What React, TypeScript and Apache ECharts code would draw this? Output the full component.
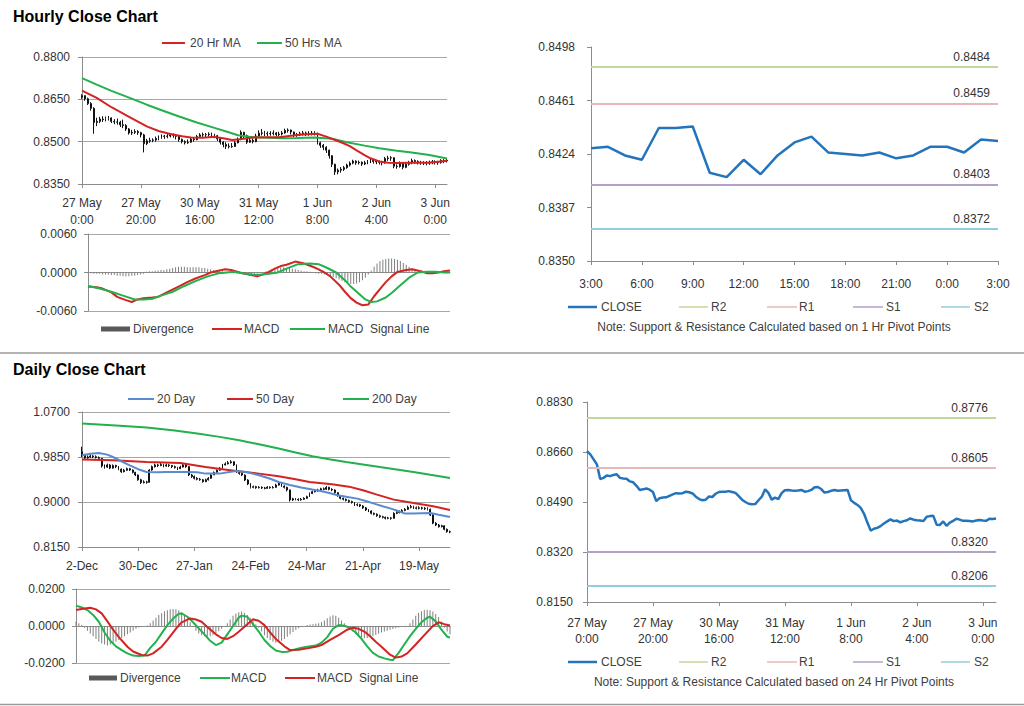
import React, { useEffect, useRef } from "react";
import * as echarts from "echarts";

// ---------------- DATA ----------------
const HOURLY_TICKS = ["27 May\n0:00", "27 May\n20:00", "30 May\n16:00", "31 May\n12:00", "1 Jun\n8:00", "2 Jun\n4:00", "3 Jun\n0:00"];
const DAILY_TICKS = ["2-Dec", "30-Dec", "27-Jan", "24-Feb", "24-Mar", "21-Apr", "19-May"];
const HOUR_LABELS = ["3:00", "4:00", "5:00", "6:00", "7:00", "8:00", "9:00", "10:00", "11:00", "12:00", "13:00", "14:00", "15:00", "16:00", "17:00", "18:00", "19:00", "20:00", "21:00", "22:00", "23:00", "0:00", "1:00", "2:00", "3:00"];

const HOURLY_FIRST_OPEN = 0.8658;
const HOURLY_CLOSE = [
  0.8663, 0.8652, 0.8635, 0.8618, 0.8568, 0.8572, 0.858, 0.8578, 0.8582, 0.8584,
  0.8572, 0.857, 0.8569, 0.856, 0.8557, 0.8545, 0.8531, 0.8533, 0.8536, 0.8532,
  0.8524, 0.8493, 0.8503, 0.8505, 0.8506, 0.8511, 0.8516, 0.852, 0.8519, 0.852,
  0.8525, 0.8523, 0.8519, 0.8508, 0.85, 0.8496, 0.8498, 0.8509, 0.8507, 0.8518,
  0.8524, 0.8525, 0.8525, 0.8527, 0.8524, 0.8521, 0.851, 0.8498, 0.849, 0.8484,
  0.8482, 0.8483, 0.8496, 0.8508, 0.8533, 0.8521, 0.8498, 0.8505, 0.85, 0.852,
  0.853, 0.8531, 0.8529, 0.8528, 0.8529, 0.8531, 0.8525, 0.8527, 0.8531, 0.854,
  0.8541, 0.8534, 0.8522, 0.8524, 0.8528, 0.8531, 0.8528, 0.8529, 0.853, 0.8531,
  0.8496, 0.8487, 0.848, 0.847, 0.845, 0.842, 0.8393, 0.8399, 0.8402, 0.8408,
  0.8417, 0.8424, 0.8431, 0.8425, 0.8427, 0.8421, 0.8425, 0.8428, 0.8434, 0.843,
  0.8428, 0.8427, 0.8425, 0.844, 0.8442, 0.8443, 0.8413, 0.8412, 0.8424, 0.8409,
  0.842, 0.8426, 0.8433, 0.843, 0.8426, 0.8426, 0.8425, 0.8424, 0.8427, 0.8429,
  0.8427, 0.8426, 0.8433, 0.8432, 0.8434,
];
const HOURLY_HIGH = [
  0.8668, 0.8664, 0.8656, 0.864, 0.8622, 0.8585, 0.8588, 0.859, 0.8589, 0.8591,
  0.8586, 0.858, 0.8582, 0.8574, 0.8578, 0.8562, 0.8548, 0.8542, 0.8544, 0.8541,
  0.8535, 0.8528, 0.851, 0.8514, 0.8512, 0.8518, 0.8522, 0.8526, 0.8524, 0.8527,
  0.853, 0.8529, 0.8526, 0.8521, 0.8511, 0.8505, 0.8508, 0.8515, 0.8516, 0.8524,
  0.853, 0.8532, 0.8531, 0.8533, 0.8532, 0.8528, 0.8524, 0.8512, 0.8502, 0.8498,
  0.8494, 0.8495, 0.8503, 0.8515, 0.854, 0.8535, 0.8525, 0.8514, 0.8512, 0.8528,
  0.854, 0.8545, 0.8538, 0.8536, 0.8537, 0.854, 0.8534, 0.8535, 0.8538, 0.8546,
  0.8547, 0.8543, 0.8536, 0.8531, 0.8535, 0.8538, 0.8536, 0.8537, 0.8538, 0.8537,
  0.8532, 0.85, 0.8492, 0.8484, 0.8472, 0.8452, 0.8422, 0.8405, 0.841, 0.8414,
  0.8422, 0.843, 0.8436, 0.8434, 0.8433, 0.843, 0.8432, 0.8435, 0.844, 0.8438,
  0.8435, 0.8433, 0.8432, 0.8446, 0.845, 0.8449, 0.8445, 0.842, 0.843, 0.8426,
  0.8426, 0.8432, 0.844, 0.8437, 0.8434, 0.8432, 0.8431, 0.8431, 0.8433, 0.8435,
  0.8434, 0.8432, 0.8438, 0.8438, 0.844,
];
const HOURLY_LOW = [
  0.8652, 0.8645, 0.863, 0.861, 0.8528, 0.8555, 0.8566, 0.857, 0.8572, 0.8575,
  0.8566, 0.8562, 0.856, 0.8552, 0.8548, 0.8538, 0.8525, 0.8524, 0.8527, 0.8524,
  0.8515, 0.8462, 0.8488, 0.8496, 0.8498, 0.85, 0.8505, 0.851, 0.851, 0.8512,
  0.8515, 0.8514, 0.8508, 0.85, 0.8494, 0.849, 0.8492, 0.8497, 0.85, 0.8505,
  0.8515, 0.8517, 0.8516, 0.8518, 0.8516, 0.8512, 0.8502, 0.849, 0.848, 0.8474,
  0.8476, 0.8478, 0.8482, 0.8494, 0.8505, 0.8512, 0.8492, 0.8496, 0.8494, 0.8498,
  0.8518, 0.8522, 0.852, 0.8519, 0.8521, 0.8522, 0.8518, 0.8519, 0.8522, 0.8528,
  0.8532, 0.8526, 0.8516, 0.8517, 0.852, 0.8522, 0.852, 0.8521, 0.8522, 0.8522,
  0.849, 0.8478, 0.847, 0.846, 0.844, 0.841, 0.8382, 0.8384, 0.839, 0.8396,
  0.8404, 0.8412, 0.842, 0.8418, 0.8419, 0.8414, 0.8417, 0.842, 0.8424, 0.8422,
  0.842, 0.8419, 0.8416, 0.8422, 0.8432, 0.8432, 0.8406, 0.8404, 0.8408, 0.8402,
  0.8406, 0.8415, 0.842, 0.8422, 0.8419, 0.8418, 0.8417, 0.8416, 0.8418, 0.842,
  0.8419, 0.8418, 0.8422, 0.8424, 0.8426,
];
// [hour index, value]
const HOURLY_MA20 = [[0, 0.8681], [5, 0.8655], [10, 0.8622], [16, 0.8588], [22, 0.8554], [26, 0.8538], [30, 0.8527], [34, 0.8519], [37, 0.8515], [41, 0.8514], [45, 0.8517], [48, 0.8512], [51, 0.8506], [55, 0.851], [58, 0.8515], [63, 0.8516], [67, 0.8516], [71, 0.8521], [75, 0.8525], [80, 0.8528], [83, 0.8518], [86, 0.8506], [88, 0.8498], [91, 0.8484], [93, 0.8471], [96, 0.8452], [98, 0.8441], [101, 0.843], [104, 0.8425], [107, 0.8424], [112, 0.8425], [118, 0.8425], [124, 0.8432]];
const HOURLY_MA50 = [[0, 0.8725], [5, 0.8702], [10, 0.868], [16, 0.8656], [22, 0.8631], [28, 0.8608], [33, 0.8589], [39, 0.8568], [45, 0.8549], [49, 0.8536], [53, 0.8523], [58, 0.8516], [63, 0.8514], [68, 0.8512], [73, 0.8513], [79, 0.8515], [85, 0.851], [90, 0.8498], [96, 0.8486], [101, 0.8477], [107, 0.8468], [112, 0.8462], [118, 0.8453], [124, 0.844]];
const HOURLY_MACD = [[0, -0.0022], [3, -0.0023], [5, -0.0025], [8, -0.0031], [10, -0.0038], [13, -0.0043], [15, -0.0046], [17, -0.0042], [19, -0.004], [22, -0.0039], [24, -0.0038], [27, -0.0031], [31, -0.0022], [34, -0.0015], [37, -0.0009], [40, -0.0004], [42, 0.0], [45, 0.0003], [47, 0.0005], [49, 0.0004], [52, 0.0], [55, -0.0003], [58, -0.0006], [60, -0.0003], [62, 0.0001], [64, 0.0006], [66, 0.001], [68, 0.0012], [71, 0.0017], [74, 0.0014], [77, 0.0009], [79, 0.0005], [81, 0.0], [83, -0.0006], [86, -0.0019], [88, -0.003], [90, -0.004], [92, -0.0047], [94, -0.0051], [96, -0.005], [98, -0.0037], [100, -0.0026], [102, -0.0015], [104, -0.0006], [106, 0.0001], [109, 0.0004], [111, 0.0005], [114, 0.0002], [116, -0.0001], [118, -0.0001], [120, 0.0], [122, 0.0002], [124, 0.0003]];
const HOURLY_SIGNAL = [[0, -0.0021], [4, -0.0025], [8, -0.003], [12, -0.0036], [16, -0.0042], [19, -0.0042], [22, -0.0041], [25, -0.0036], [29, -0.003], [33, -0.0021], [37, -0.0013], [41, -0.0006], [45, -0.0001], [50, 0.0001], [54, -0.0002], [58, -0.0004], [62, -0.0002], [65, 0.0], [68, 0.0006], [72, 0.0013], [76, 0.0014], [79, 0.0013], [82, 0.0007], [85, 0.0], [88, -0.0012], [90, -0.0022], [93, -0.0034], [95, -0.0042], [97, -0.0046], [99, -0.0045], [102, -0.0039], [104, -0.0032], [107, -0.002], [110, -0.0008], [113, 0.0], [116, 0.0001], [119, 0.0001], [122, 0.0], [124, 0.0]];
const HOURLY_DIVERGENCE = [
  -0.0001, -0.0001, -0.0002, -0.0002, -0.0002, -0.0003, -0.0003, -0.0003,
  -0.0004, -0.0004, -0.0005, -0.0005, -0.0006, -0.0006, -0.0006, -0.0005, -0.0005, -0.0004, -0.0003, -0.0002,
  0.0001, 0.0002, 0.0002, 0.0003, 0.0003, 0.0004, 0.0004, 0.0005,
  0.0006, 0.0007, 0.0008, 0.0009, 0.0009, 0.0009, 0.0008, 0.0008, 0.0008, 0.0008, 0.0008, 0.0007, 0.0007, 0.0006,
  0.0005, 0.0004, 0.0003, 0.0003, 0.0002, 0.0001, 0.0001, 0.0,
  -0.0001, -0.0002, -0.0002, -0.0003, -0.0003, -0.0003, -0.0004, -0.0003, -0.0002, -0.0001, 0.0,
  0.0002, 0.0003, 0.0005, 0.0006, 0.0007, 0.0008, 0.0008, 0.0007, 0.0007, 0.0006, 0.0005, 0.0004, 0.0003, 0.0002, 0.0002,
  0.0001, 0.0, -0.0001, -0.0002, -0.0002, -0.0003, -0.0004, -0.0005, -0.0007,
  -0.0009, -0.0011, -0.0013, -0.0015, -0.0017, -0.0018, -0.0018, -0.0017, -0.0015, -0.0012, -0.0008, -0.0003,
  0.0003, 0.0009, 0.0014, 0.0018, 0.002, 0.0021, 0.0022, 0.0022, 0.0021, 0.002, 0.0018, 0.0015, 0.0012, 0.0009, 0.0006, 0.0004,
  0.0002, 0.0001, 0.0, -0.0001, -0.0001, 0.0, 0.0, 0.0001, 0.0, 0.0, -0.0001, 0.0,
];

const PIVOT_HOUR_CLOSE = [0.8428, 0.8429, 0.8423, 0.842, 0.8442, 0.8442, 0.8443, 0.8411, 0.8408, 0.842, 0.841, 0.8423, 0.8432, 0.8436, 0.8425, 0.8424, 0.8423, 0.8425, 0.8421, 0.8423, 0.8429, 0.8429, 0.8425, 0.8434, 0.8433];
const LEVEL_NAMES = ["R2", "R1", "S1", "S2"];
const HOURLY_PIVOTS = [0.8484, 0.8459, 0.8403, 0.8372];
const DAILY_PIVOTS = [0.8776, 0.8605, 0.832, 0.8206];

const DAILY_FIRST_OPEN = 0.995;
const DAILY_CLOSE = [
  0.99, 0.983, 0.985, 0.987, 0.9856, 0.984, 0.9825, 0.968, 0.966, 0.97,
  0.964, 0.969, 0.9667, 0.962, 0.9572, 0.96, 0.963, 0.9604, 0.956, 0.951,
  0.942, 0.9366, 0.938, 0.9372, 0.9604, 0.9667, 0.97, 0.969, 0.971, 0.9679,
  0.97, 0.969, 0.9667, 0.965, 0.963, 0.966, 0.97, 0.9667, 0.951, 0.948,
  0.9448, 0.943, 0.942, 0.9384, 0.942, 0.9448, 0.951, 0.956, 0.96, 0.964,
  0.9699, 0.972, 0.9742, 0.976, 0.9699, 0.9572, 0.954, 0.951, 0.9415, 0.934,
  0.9277, 0.929, 0.927, 0.9277, 0.9265, 0.9258, 0.928, 0.927, 0.9277, 0.932,
  0.9356, 0.93, 0.9277, 0.9227, 0.9038, 0.906, 0.9051, 0.904, 0.9051, 0.907,
  0.9101, 0.916, 0.9195, 0.921, 0.9227, 0.925, 0.9239, 0.9277, 0.924, 0.9227,
  0.9176, 0.912, 0.907, 0.9051, 0.903, 0.9007, 0.899, 0.8943, 0.895, 0.8925,
  0.889, 0.8849, 0.883, 0.8786, 0.877, 0.874, 0.8722, 0.871, 0.8692, 0.87,
  0.8692, 0.8786, 0.88, 0.8817, 0.884, 0.8862, 0.89, 0.8912, 0.889, 0.888,
  0.889, 0.888, 0.887, 0.8862, 0.8754, 0.86, 0.8565, 0.8534, 0.855, 0.8484,
  0.844, 0.8433,
];
const DAILY_HIGH = [
  1.0045, 0.9905, 0.988, 0.9895, 0.9885, 0.988, 0.986, 0.983, 0.971, 0.9725,
  0.9715, 0.971, 0.9705, 0.968, 0.9635, 0.9625, 0.965, 0.9645, 0.9615, 0.957,
  0.952, 0.944, 0.941, 0.94, 0.962, 0.969, 0.9725, 0.972, 0.9735, 0.972,
  0.9725, 0.9715, 0.97, 0.969, 0.9665, 0.9685, 0.972, 0.9715, 0.968, 0.953,
  0.95, 0.947, 0.9455, 0.9435, 0.944, 0.947, 0.953, 0.9575, 0.9615, 0.966,
  0.972, 0.975, 0.9775, 0.979, 0.977, 0.971, 0.959, 0.956, 0.952, 0.943,
  0.9355, 0.931, 0.9305, 0.93, 0.9295, 0.9285, 0.93, 0.9295, 0.93, 0.9345,
  0.938, 0.9365, 0.9315, 0.929, 0.9235, 0.908, 0.9075, 0.907, 0.9075, 0.909,
  0.912, 0.918, 0.9215, 0.9235, 0.925, 0.927, 0.9275, 0.93, 0.929, 0.926,
  0.924, 0.9185, 0.913, 0.9085, 0.9065, 0.9045, 0.9025, 0.9, 0.8975, 0.8965,
  0.894, 0.8905, 0.8865, 0.8845, 0.88, 0.8785, 0.876, 0.874, 0.8725, 0.872,
  0.8715, 0.8805, 0.8825, 0.884, 0.8865, 0.8885, 0.893, 0.8945, 0.893, 0.8915,
  0.892, 0.891, 0.8905, 0.89, 0.8875, 0.877, 0.862, 0.8585, 0.857, 0.856,
  0.85, 0.846,
];
const DAILY_LOW = [
  0.985, 0.98, 0.9815, 0.9835, 0.983, 0.982, 0.98, 0.965, 0.963, 0.9645,
  0.962, 0.963, 0.964, 0.96, 0.955, 0.956, 0.959, 0.9585, 0.954, 0.949,
  0.94, 0.934, 0.935, 0.9345, 0.937, 0.959, 0.965, 0.966, 0.9675, 0.9655,
  0.9665, 0.966, 0.964, 0.963, 0.9605, 0.962, 0.965, 0.9645, 0.949, 0.9455,
  0.9425, 0.941, 0.94, 0.9365, 0.9375, 0.9405, 0.944, 0.953, 0.9565, 0.9595,
  0.963, 0.969, 0.971, 0.9725, 0.968, 0.955, 0.9515, 0.949, 0.9395, 0.932,
  0.9255, 0.926, 0.925, 0.9255, 0.9245, 0.924, 0.925, 0.925, 0.9255, 0.927,
  0.931, 0.9285, 0.9255, 0.92, 0.901, 0.902, 0.903, 0.902, 0.9025, 0.904,
  0.906, 0.9095, 0.915, 0.918, 0.9195, 0.9215, 0.922, 0.923, 0.922, 0.9205,
  0.9155, 0.91, 0.905, 0.903, 0.901, 0.8985, 0.897, 0.8925, 0.892, 0.8905,
  0.887, 0.883, 0.881, 0.8765, 0.875, 0.872, 0.87, 0.869, 0.867, 0.8675,
  0.8665, 0.8685, 0.877, 0.8785, 0.8805, 0.8825, 0.885, 0.888, 0.887, 0.886,
  0.886, 0.8855, 0.885, 0.884, 0.8735, 0.858, 0.8545, 0.8515, 0.852, 0.8465,
  0.842, 0.841,
];
// [day index, value]
const DAILY_MA20 = [[0, 0.9882], [3, 0.991], [6, 0.9926], [9, 0.9895], [11, 0.985], [14, 0.977], [17, 0.9693], [20, 0.962], [23, 0.9567], [27, 0.956], [30, 0.9567], [34, 0.9565], [37, 0.9567], [41, 0.956], [44, 0.9536], [49, 0.9536], [53, 0.957], [55, 0.9586], [59, 0.956], [63, 0.9504], [67, 0.944], [70, 0.9378], [74, 0.932], [78, 0.9272], [82, 0.9235], [85, 0.9208], [88, 0.917], [91, 0.9127], [94, 0.91], [98, 0.9064], [101, 0.902], [104, 0.897], [107, 0.892], [110, 0.8875], [113, 0.882], [115, 0.8781], [118, 0.8781], [121, 0.8787], [124, 0.8793], [127, 0.876], [131, 0.8717]];
const DAILY_MA50 = [[0, 0.9801], [11, 0.9788], [23, 0.9756], [35, 0.9737], [44, 0.9661], [50, 0.962], [55, 0.9586], [63, 0.9536], [70, 0.9485], [76, 0.943], [81, 0.9378], [89, 0.9334], [95, 0.929], [100, 0.9221], [105, 0.914], [111, 0.9045], [118, 0.8981], [125, 0.8919], [131, 0.885]];
const DAILY_MA200 = [[0, 1.0481], [12, 1.0445], [23, 1.0405], [33, 1.035], [41, 1.0292], [49, 1.023], [56, 1.0165], [63, 1.009], [70, 1.0009], [76, 0.9935], [82, 0.9863], [88, 0.9808], [94, 0.9756], [100, 0.971], [106, 0.9661], [112, 0.9614], [118, 0.9567], [124, 0.9515], [131, 0.9455]];
const DAILY_MACD = [[0, 0.011], [2, 0.01], [4, 0.0086], [6, 0.006], [8, 0.0023], [10, -0.0035], [12, -0.008], [14, -0.011], [16, -0.013], [18, -0.0148], [20, -0.016], [22, -0.0162], [24, -0.016], [26, -0.0118], [28, -0.0085], [30, -0.004], [32, 0.0005], [34, 0.004], [36, 0.0066], [37, 0.0068], [39, 0.005], [41, 0.002], [43, -0.0013], [45, -0.0045], [47, -0.008], [49, -0.0103], [51, -0.009], [53, -0.0045], [55, 0.0], [57, 0.0045], [58, 0.0056], [60, 0.005], [62, 0.001], [64, -0.003], [66, -0.0076], [68, -0.0108], [70, -0.0132], [72, -0.014], [74, -0.0139], [76, -0.013], [79, -0.0117], [81, -0.0112], [84, -0.0106], [86, -0.009], [88, -0.006], [90, -0.0015], [92, 0.0005], [94, 0.0002], [96, -0.0012], [98, -0.0035], [100, -0.007], [102, -0.011], [104, -0.0145], [106, -0.0165], [108, -0.0175], [110, -0.0182], [111, -0.0184], [113, -0.0145], [115, -0.01], [117, -0.0055], [119, -0.0015], [121, 0.002], [123, 0.0045], [124, 0.005], [126, 0.0025], [128, -0.002], [130, -0.0058], [131, -0.0062]];
const DAILY_SIGNAL = [[0, 0.0086], [3, 0.0095], [5, 0.0099], [7, 0.009], [9, 0.0068], [11, 0.0025], [13, -0.002], [15, -0.006], [18, -0.0112], [20, -0.0138], [23, -0.0157], [25, -0.016], [27, -0.0148], [30, -0.0112], [32, -0.0075], [35, -0.0015], [37, 0.002], [40, 0.0041], [42, 0.0035], [44, 0.0023], [46, -0.0005], [49, -0.0045], [51, -0.0065], [53, -0.007], [55, -0.0055], [57, -0.0031], [60, 0.001], [62, 0.0036], [64, 0.0028], [66, 0.0005], [68, -0.0035], [70, -0.007], [73, -0.011], [75, -0.013], [78, -0.0128], [81, -0.0121], [84, -0.0112], [86, -0.0103], [89, -0.0075], [92, -0.0049], [95, -0.002], [97, -0.0009], [99, -0.0015], [101, -0.003], [103, -0.0055], [105, -0.0085], [107, -0.0112], [110, -0.0155], [112, -0.0171], [114, -0.0165], [116, -0.0148], [119, -0.01], [122, -0.0049], [125, 0.0], [127, 0.002], [129, 0.001], [131, 0.0003]];
const DAILY_DIVERGENCE = [
  0.0025, 0.0015, 0.0005,
  -0.001, -0.0025, -0.004, -0.0055, -0.007, -0.0085, -0.0095, -0.01, -0.0105, -0.01, -0.0095, -0.0085, -0.0075, -0.0065, -0.0055, -0.0045, -0.0035, -0.0025, -0.0015, -0.0008, -0.0003, 0.0, 0.0003,
  0.0015, 0.003, 0.0045, 0.006, 0.007, 0.008, 0.0085, 0.009, 0.0092, 0.009, 0.0085, 0.0075, 0.006, 0.004, 0.002,
  -0.0005, -0.0025, -0.004, -0.005, -0.0055, -0.0058, -0.0055, -0.005, -0.004, -0.0028, -0.0015, -0.0002,
  0.0015, 0.0035, 0.0055, 0.0068, 0.0075, 0.0078, 0.0072, 0.006, 0.0045, 0.0028, 0.001,
  -0.001, -0.003, -0.005, -0.0065, -0.0075, -0.0085, -0.009, -0.0088, -0.008, -0.007, -0.0058, -0.0045, -0.0033, -0.0022, -0.0012, -0.0005, 0.0, 0.0005,
  0.0008, 0.001, 0.0012, 0.0015, 0.002, 0.003, 0.0042, 0.0052, 0.0058, 0.0055, 0.0045, 0.003, 0.0015, 0.0002,
  -0.0015, -0.003, -0.0045, -0.0055, -0.0062, -0.0066, -0.0065, -0.006, -0.0055, -0.0048, -0.0042, -0.0035, -0.003, -0.0025, -0.002, -0.0016, -0.0012, -0.0008, -0.0005, -0.0002, 0.0,
  0.0015, 0.0035, 0.0055, 0.007, 0.008, 0.0086, 0.0088, 0.0085, 0.0078, 0.0065, 0.0048, 0.0025,
  -0.001, -0.003, -0.0045,
];

// ---------------- STYLE ----------------
const FONT = '"Liberation Sans", Arial, Helvetica, sans-serif';
const TXT = "#333333";
const LEG_TXT = "#404040";
const AXIS_C = "#8C8C8C";
const GRID_C = "#A8A8A8";
const RED = "#D42323";
const GREEN = "#22B14C";
const BLUE20 = "#5A8BD0";
const CLOSE_C = "#2474BC";
const BAR_C = "#7F7F7F";
const LEVEL_COLORS = ["#C3D69B", "#E6B9B8", "#B3A2C7", "#93CDDD"];

const fmt4 = (v: number) => Number(v).toFixed(4);

const HOURLY_CATS = HOURLY_CLOSE.map((_, i) => (i % 20 === 0 ? HOURLY_TICKS[i / 20] : "h" + i));
const DAILY_CATS = DAILY_CLOSE.map((_, i) => (i % 20 === 0 ? DAILY_TICKS[i / 20] : "d" + i));

const HOURLY_OHLC = HOURLY_CLOSE.map((c, i) => [i === 0 ? HOURLY_FIRST_OPEN : HOURLY_CLOSE[i - 1], c, HOURLY_LOW[i], HOURLY_HIGH[i]]);
const DAILY_OHLC = DAILY_CLOSE.map((c, i) => [i === 0 ? DAILY_FIRST_OPEN : DAILY_CLOSE[i - 1], c, DAILY_LOW[i], DAILY_HIGH[i]]);

function yAx(gridIndex: number, min: number, max: number, interval: number, margin: number, split: boolean) {
  return {
    type: "value",
    gridIndex,
    min,
    max,
    interval,
    axisLine: { show: true, lineStyle: { color: AXIS_C, width: 1 } },
    axisTick: { show: true, length: 4, lineStyle: { color: AXIS_C } },
    axisLabel: { color: TXT, fontSize: 12, fontFamily: FONT, margin, formatter: fmt4 },
    splitLine: { show: split, lineStyle: { color: GRID_C, width: 1 } },
  };
}

function xAx(gridIndex: number, data: string[], every: number, showLabels: boolean, margin: number, lineHeight: number) {
  return {
    type: "category",
    gridIndex,
    data,
    boundaryGap: false,
    axisLine: { show: true, lineStyle: { color: AXIS_C, width: 1 } },
    axisTick: { show: showLabels, interval: every - 1, length: 4, lineStyle: { color: AXIS_C } },
    axisLabel: { show: showLabels, interval: every - 1, color: TXT, fontSize: 12, fontFamily: FONT, margin, lineHeight },
    splitLine: { show: false },
  };
}

function lineS(name: string, xi: number, data: any[], color: string, width: number) {
  return {
    type: "line",
    name,
    xAxisIndex: xi,
    yAxisIndex: xi,
    data,
    symbol: "none",
    showSymbol: false,
    lineStyle: { color, width },
    itemStyle: { color },
    emphasis: { disabled: true },
  };
}

function levelMarks(vals: number[]) {
  return {
    silent: true,
    symbol: ["none", "none"],
    precision: 4,
    animation: false,
    emphasis: { disabled: true },
    label: { show: true, position: "insideEndTop", color: TXT, fontSize: 12, fontFamily: FONT, distance: [8, 4], formatter: (p: any) => fmt4(p.value) },
    data: vals.map((v, k) => ({ name: LEVEL_NAMES[k], yAxis: v, lineStyle: { color: LEVEL_COLORS[k], width: 2, type: "solid" } })),
  };
}

function candle(name: string, xi: number, data: any[]) {
  return {
    type: "candlestick",
    name,
    xAxisIndex: xi,
    yAxisIndex: xi,
    data,
    barMaxWidth: 1.4,
    itemStyle: { color: "#111", color0: "#111", borderColor: "#111", borderColor0: "#111", borderWidth: 1 },
    emphasis: { disabled: true },
  };
}

// graphic helpers
const gText = (x: number, y: number, text: string, extra: any = {}) => ({
  type: "text",
  x,
  y,
  silent: true,
  style: { text, fill: LEG_TXT, font: `12px ${FONT}`, textAlign: "left", textVerticalAlign: "middle", align: "left", verticalAlign: "middle", ...extra },
});
const gLine = (x1: number, x2: number, y: number, color: string, w: number) => ({
  type: "line",
  silent: true,
  shape: { x1, y1: y, x2, y2: y },
  style: { stroke: color, lineWidth: w },
});
const gRect = (x1: number, x2: number, y: number) => ({
  type: "rect",
  silent: true,
  shape: { x: x1, y: y - 2.5, width: x2 - x1, height: 5 },
  style: { fill: "#595959" },
});

const pivotLegend = (y: number, noteY: number, note: string) => [
  gLine(568, 597, y, CLOSE_C, 2.5),
  gText(601, y, "CLOSE"),
  gLine(679, 708, y, LEVEL_COLORS[0], 1.5),
  gText(711, y, LEVEL_NAMES[0]),
  gLine(767, 797, y, LEVEL_COLORS[1], 1.5),
  gText(799, y, LEVEL_NAMES[1]),
  gLine(853, 883, y, LEVEL_COLORS[2], 1.5),
  gText(886, y, LEVEL_NAMES[2]),
  gLine(941, 970, y, LEVEL_COLORS[3], 1.5),
  gText(974, y, LEVEL_NAMES[3]),
  gText(774, noteY, note, { textAlign: "center", align: "center" }),
];

const option: any = {
  animation: false,
  backgroundColor: "#ffffff",
  textStyle: { fontFamily: FONT },
  grid: [
    { left: 82, top: 57, width: 365, height: 127 },
    { left: 88, top: 234, width: 362, height: 77 },
    { left: 591, top: 47, width: 407, height: 214 },
    { left: 82, top: 412, width: 368, height: 135 },
    { left: 76, top: 589, width: 374, height: 74 },
    { left: 587, top: 402, width: 409, height: 200 },
  ],
  xAxis: [
    xAx(0, HOURLY_CATS, 20, true, 10, 17),
    xAx(1, HOURLY_CATS, 20, false, 10, 17),
    xAx(2, HOUR_LABELS, 3, true, 16, 14),
    xAx(3, DAILY_CATS, 20, true, 12, 14),
    xAx(4, DAILY_CATS, 20, false, 10, 14),
    xAx(5, HOURLY_CATS, 20, true, 13, 16),
  ],
  yAxis: [
    yAx(0, 0.835, 0.88, 0.015, 12, true),
    yAx(1, -0.006, 0.006, 0.006, 11, true),
    yAx(2, 0.835, 0.8498, 0.0037, 16, false),
    yAx(3, 0.815, 1.07, 0.085, 12, true),
    yAx(4, -0.02, 0.02, 0.02, 11, true),
    yAx(5, 0.815, 0.883, 0.017, 14, false),
  ],
  series: [
    candle("Hourly bars", 0, HOURLY_OHLC),
    lineS("50 Hrs MA", 0, HOURLY_MA50, GREEN, 2),
    lineS("20 Hr MA", 0, HOURLY_MA20, RED, 2),
    { type: "bar", name: "Divergence (hourly)", xAxisIndex: 1, yAxisIndex: 1, data: HOURLY_DIVERGENCE, barWidth: 1, itemStyle: { color: BAR_C }, emphasis: { disabled: true } },
    lineS("MACD (hourly)", 1, HOURLY_MACD, RED, 2),
    lineS("MACD Signal Line (hourly)", 1, HOURLY_SIGNAL, GREEN, 2),
    { ...lineS("CLOSE (1 Hr)", 2, PIVOT_HOUR_CLOSE, CLOSE_C, 2.5), markLine: levelMarks(HOURLY_PIVOTS) },
    candle("Daily bars", 3, DAILY_OHLC),
    lineS("200 Day", 3, DAILY_MA200, GREEN, 2),
    lineS("50 Day", 3, DAILY_MA50, RED, 2),
    lineS("20 Day", 3, DAILY_MA20, BLUE20, 2),
    { type: "bar", name: "Divergence (daily)", xAxisIndex: 4, yAxisIndex: 4, data: DAILY_DIVERGENCE, barWidth: 1, itemStyle: { color: BAR_C }, emphasis: { disabled: true } },
    lineS("MACD (daily)", 4, DAILY_MACD, GREEN, 2),
    lineS("MACD Signal Line (daily)", 4, DAILY_SIGNAL, RED, 2),
    { ...lineS("CLOSE (24 Hr)", 5, HOURLY_CLOSE, CLOSE_C, 2.5), markLine: levelMarks(DAILY_PIVOTS) },
  ],
  graphic: [
    gText(13, 16, "Hourly Close Chart", { font: `bold 16px ${FONT}`, fill: "#000000" }),
    gText(13, 369, "Daily Close Chart", { font: `bold 16px ${FONT}`, fill: "#000000" }),
    gLine(0, 1024, 353, "#9A9A9A", 1.5),
    gLine(0, 1024, 704.5, "#9A9A9A", 1.5),
    // hourly price legend
    gLine(162, 185, 43, RED, 2),
    gText(190, 43, "20 Hr MA"),
    gLine(257, 282, 43, GREEN, 2),
    gText(285, 43, "50 Hrs MA"),
    // hourly MACD legend
    gRect(101, 130, 329),
    gText(133, 329, "Divergence"),
    gLine(212, 242, 329, RED, 2),
    gText(244, 329, "MACD"),
    gLine(290, 325, 329, GREEN, 2),
    gText(328, 329, "MACD  Signal Line"),
    // pivot charts
    ...pivotLegend(307, 327, "Note: Support & Resistance Calculated based on 1 Hr Pivot Points"),
    ...pivotLegend(662, 682, "Note: Support & Resistance Calculated based on 24 Hr Pivot Points"),
    // daily price legend
    gLine(128, 154, 399, BLUE20, 2),
    gText(157, 399, "20 Day"),
    gLine(227, 253, 399, RED, 2),
    gText(256, 399, "50 Day"),
    gLine(343, 369, 399, GREEN, 2),
    gText(372, 399, "200 Day"),
    // daily MACD legend
    gRect(89, 117, 678),
    gText(120, 678, "Divergence"),
    gLine(200, 230, 678, GREEN, 2),
    gText(231, 678, "MACD"),
    gLine(285, 315, 678, RED, 2),
    gText(317, 678, "MACD  Signal Line"),
  ],
};

export default function App() {
  const ref = useRef<HTMLDivElement>(null);
  useEffect(() => {
    if (!ref.current) return;
    const chart = echarts.init(ref.current, null, { renderer: "svg" });
    chart.setOption(option);
    return () => chart.dispose();
  }, []);
  return <div ref={ref} style={{ position: "absolute", left: 0, top: 0, width: 1024, height: 706, background: "#fff" }} />;
}
